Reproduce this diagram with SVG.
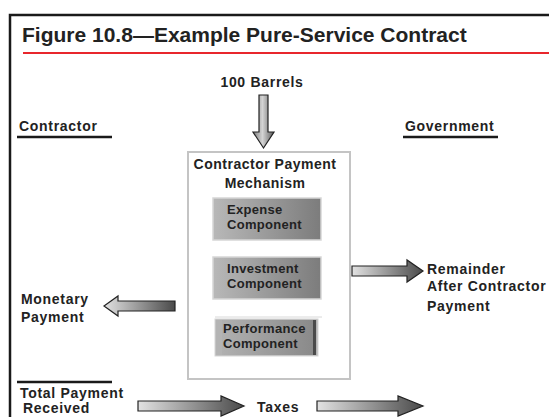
<svg xmlns="http://www.w3.org/2000/svg" width="549" height="417" viewBox="0 0 549 417">
<defs>
<linearGradient id="ag" x1="0" y1="0" x2="1" y2="0">
<stop offset="0" stop-color="#e2e2e2"/>
<stop offset="1" stop-color="#4a4a4a"/>
</linearGradient>
<linearGradient id="dg" x1="0" y1="0" x2="1" y2="0">
<stop offset="0" stop-color="#7a7a7a"/>
<stop offset="0.45" stop-color="#d4d4d4"/>
<stop offset="1" stop-color="#5a5a5a"/>
</linearGradient>
<linearGradient id="cg" x1="0" y1="0" x2="1" y2="0">
<stop offset="0" stop-color="#b8b8b8"/>
<stop offset="1" stop-color="#7c7c7c"/>
</linearGradient>
<linearGradient id="pg" x1="0" y1="0" x2="1" y2="0">
<stop offset="0" stop-color="#b0b0b0"/>
<stop offset="1" stop-color="#8a8a8a"/>
</linearGradient>
</defs>
<style>
text{font-family:"Liberation Sans",Arial,sans-serif;font-weight:bold;fill:#222}
.title{font-size:21px}
.lab{font-size:14px;letter-spacing:0.7px}
.mech{font-size:14px;letter-spacing:0.5px}
.comp{font-size:13px;letter-spacing:0.3px}
.rule{stroke:#1a1a1a;stroke-width:2.5;fill:none}
.arrow{fill:url(#ag);stroke:#222;stroke-width:1.2;stroke-linejoin:miter}
.cbox{fill:url(#cg);stroke:#d6d6d6;stroke-width:1.5}
</style>
<rect width="549" height="417" fill="#ffffff"/>
<g id="frame">
<path class="rule" d="M10,417 V15 H549"/>
<text class="title" x="22" y="42">Figure 10.8—Example Pure-Service Contract</text>
<line x1="23" y1="53" x2="549" y2="53" stroke="#e8262c" stroke-width="2"/>
</g>
<g id="barrels">
<text class="lab" x="262" y="87" text-anchor="middle">100 Barrels</text>
</g>
<g id="contractor">
<text class="lab" x="19" y="131">Contractor</text>
<line class="rule" x1="17" y1="137" x2="112" y2="137"/>
</g>
<g id="government">
<text class="lab" x="405" y="131">Government</text>
<line class="rule" x1="403" y1="137" x2="498" y2="137"/>
</g>
<g id="mechanism">
<rect x="188" y="152" width="162" height="227" fill="#ffffff" stroke="#c4c4c4" stroke-width="2"/>
<text class="mech" x="265" y="169" text-anchor="middle">Contractor Payment</text>
<text class="mech" x="265" y="188" text-anchor="middle">Mechanism</text>
</g>
<g id="expense">
<rect class="cbox" x="213" y="198" width="108" height="42"/>
<text class="comp" x="227" y="214">Expense</text>
<text class="comp" x="227" y="229">Component</text>
</g>
<g id="investment">
<rect class="cbox" x="213" y="257" width="108" height="42"/>
<text class="comp" x="227" y="273">Investment</text>
<text class="comp" x="227" y="288">Component</text>
</g>
<g id="performance">
<line x1="215" y1="317" x2="322" y2="317" stroke="#d8d8d8" stroke-width="1"/>
<rect x="215" y="319" width="103" height="37" fill="#b4b4b4" stroke="#d6d6d6" stroke-width="1"/>
<rect x="222" y="320" width="91" height="35" fill="url(#pg)"/>
<rect x="313" y="320" width="3" height="35" fill="#4a4a4a"/>
<text class="comp" x="223" y="333">Performance</text>
<text class="comp" x="223" y="348">Component</text>
</g>
<g id="monetary">
<text class="lab" x="21" y="304">Monetary</text>
<text class="lab" x="21" y="322">Payment</text>
</g>
<g id="remainder">
<text class="lab" x="427" y="274">Remainder</text>
<text class="lab" x="427" y="291">After Contractor</text>
<text class="lab" x="427" y="311">Payment</text>
</g>
<g id="total">
<line class="rule" x1="17" y1="382" x2="112" y2="382"/>
<text class="lab" x="20" y="398">Total Payment</text>
<text class="lab" x="23" y="413">Received</text>
</g>
<g id="taxes">
<text class="lab" x="257" y="412">Taxes</text>
</g>
<g id="connectors">
<path d="M259,95 H268 V132 H274 L263.5,148 L253,132 H259 Z" fill="url(#dg)" stroke="#222" stroke-width="1.2"/>
<path class="arrow" d="M352,266 H407 V260 L423,271 L407,282 V276 H352 Z"/>
<path class="arrow" d="M175,301 H118 V296 L104,306 L118,316 V311 H175 Z"/>
<path class="arrow" d="M138,401 H221 V396 L244,406 L221,416 V411 H138 Z"/>
<path class="arrow" d="M317,401 H398 V396 L423,406 L398,416 V411 H317 Z"/>
</g>
</svg>
